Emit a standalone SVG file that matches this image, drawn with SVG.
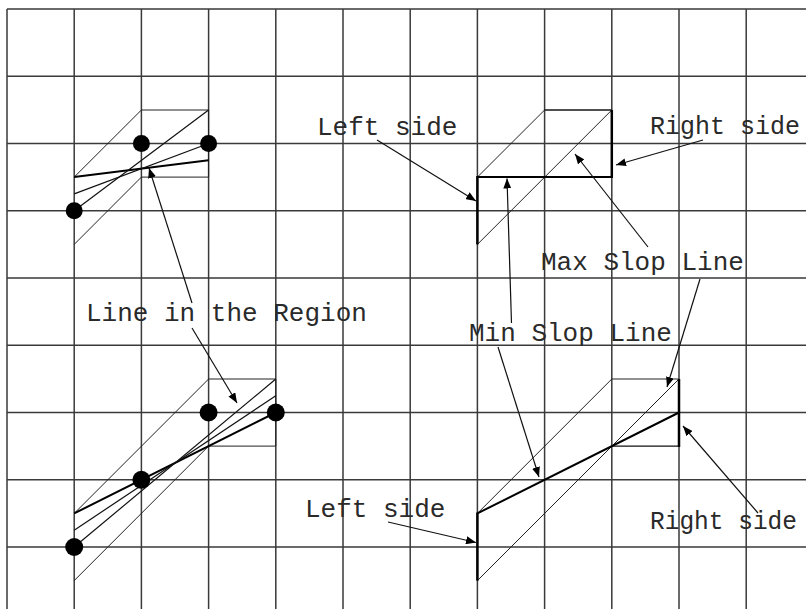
<svg xmlns="http://www.w3.org/2000/svg" width="806" height="609" viewBox="0 0 806 609">
<defs>
<style>
.grid{stroke:#3a3a3a;stroke-width:1.5;fill:none}
.edge{stroke:#222;stroke-width:1;fill:none}
.thin{stroke:#111;stroke-width:1.2;fill:none}
.thick{stroke:#000;stroke-width:2;fill:none}
.side{stroke:#000;stroke-width:2.5;fill:none}
.dot{fill:#000}
.arrow{stroke:#111;stroke-width:1.2;fill:none;marker-end:url(#ah)}
.lbl{font-family:"Liberation Mono","DejaVu Sans Mono",monospace;font-size:26px;fill:#2a2a2a}
</style>
<marker id="ah" viewBox="0 0 10 8" refX="10" refY="4" markerWidth="10" markerHeight="8" markerUnits="userSpaceOnUse" orient="auto">
<path d="M0,0 L10,4 L0,8 Z" fill="#000"/>
</marker>
</defs>
<rect x="0" y="0" width="806" height="609" fill="#fff"/>
<g id="grid" class="grid">
<path d="M7,9 H806 M7,76.25 H806 M7,143.5 H806 M7,210.75 H806 M7,278 H806 M7,345.25 H806 M7,412.5 H806 M7,479.75 H806 M7,547 H806"/>
<path d="M7,9 V609 M74.2,9 V609 M141.4,9 V609 M208.6,9 V609 M275.8,9 V609 M343,9 V609 M410.2,9 V609 M477.4,9 V609 M544.6,9 V609 M611.8,9 V609 M679,9 V609 M746.2,9 V609"/>
</g>
<g id="fig-top-left">
<path class="edge" d="M74.2,177.1 L141.4,110 L208.6,110 L208.6,177.1 L141.4,177.1 L74.2,244.4"/>
<line class="thick" x1="74.2" y1="177.1" x2="208.6" y2="160.3"/>
<line class="thin" x1="74.2" y1="193.9" x2="208.6" y2="143.5"/>
<line class="thin" x1="74.2" y1="210.8" x2="208.6" y2="110"/>
<circle class="dot" cx="74.2" cy="210.8" r="8.5"/>
<circle class="dot" cx="141.4" cy="143.5" r="8.5"/>
<circle class="dot" cx="208.6" cy="143.5" r="8.5"/>
</g>
<g id="fig-bottom-left">
<path class="edge" d="M74.2,513.4 L208.6,379 L275.8,379 L275.8,446.1 L208.6,446.1 L74.2,580.6"/>
<line class="thick" x1="74.2" y1="513.4" x2="275.8" y2="412.5"/>
<line class="thin" x1="74.2" y1="530.2" x2="275.8" y2="395.7"/>
<line class="thin" x1="74.2" y1="547" x2="275.8" y2="379"/>
<circle class="dot" cx="74.2" cy="547" r="9"/>
<circle class="dot" cx="141.4" cy="479.8" r="9"/>
<circle class="dot" cx="208.6" cy="412.5" r="9"/>
<circle class="dot" cx="275.8" cy="412.5" r="9"/>
</g>
<g id="fig-top-right">
<path class="edge" d="M477.4,177.1 L544.6,110 L611.8,110"/>
<line class="thin" x1="544.6" y1="110" x2="611.8" y2="110"/>
<line class="edge" x1="477.4" y1="244.4" x2="611.8" y2="110"/>
<line class="thick" x1="477.4" y1="177.1" x2="611.8" y2="177.1"/>
<line class="side" x1="477.4" y1="176" x2="477.4" y2="244.4"/>
<line class="side" x1="611.8" y1="110" x2="611.8" y2="178"/>
</g>
<g id="fig-bottom-right">
<path class="edge" d="M477.4,513.4 L611.8,379 L679,379"/>
<line class="thin" x1="611.8" y1="446.1" x2="679" y2="446.1"/>
<line class="edge" x1="477.4" y1="580.6" x2="679" y2="379"/>
<line class="thick" x1="477.4" y1="513.4" x2="679" y2="412.5"/>
<line class="side" x1="477.4" y1="512.5" x2="477.4" y2="580.6"/>
<line class="side" x1="679" y1="379" x2="679" y2="447"/>
</g>
<g id="connectors">
<line class="arrow" x1="192" y1="303" x2="149" y2="168"/>
<line class="arrow" x1="192" y1="328" x2="237" y2="403"/>
<line class="arrow" x1="377" y1="140" x2="476" y2="201"/>
<line class="arrow" x1="511.5" y1="323" x2="507" y2="178.5"/>
<line class="arrow" x1="703" y1="140" x2="616" y2="165"/>
<line class="arrow" x1="648" y1="247" x2="575" y2="154"/>
<line class="arrow" x1="498" y1="347" x2="539" y2="477"/>
<line class="arrow" x1="700" y1="279" x2="667" y2="387"/>
<line class="arrow" x1="388" y1="522" x2="476" y2="542.5"/>
<line class="arrow" x1="758" y1="513" x2="683" y2="426"/>
</g>
<g id="labels">
<text class="lbl" x="650" y="134" textLength="150" lengthAdjust="spacingAndGlyphs">Right side</text>
<text class="lbl" x="317" y="135">Left side</text>
<text class="lbl" x="541" y="270">Max Slop Line</text>
<text class="lbl" x="86" y="321">Line in the Region</text>
<text class="lbl" x="469" y="341">Min Slop Line</text>
<text class="lbl" x="305" y="517">Left side</text>
<text class="lbl" x="650" y="529" textLength="147" lengthAdjust="spacingAndGlyphs">Right side</text>
</g>
</svg>
